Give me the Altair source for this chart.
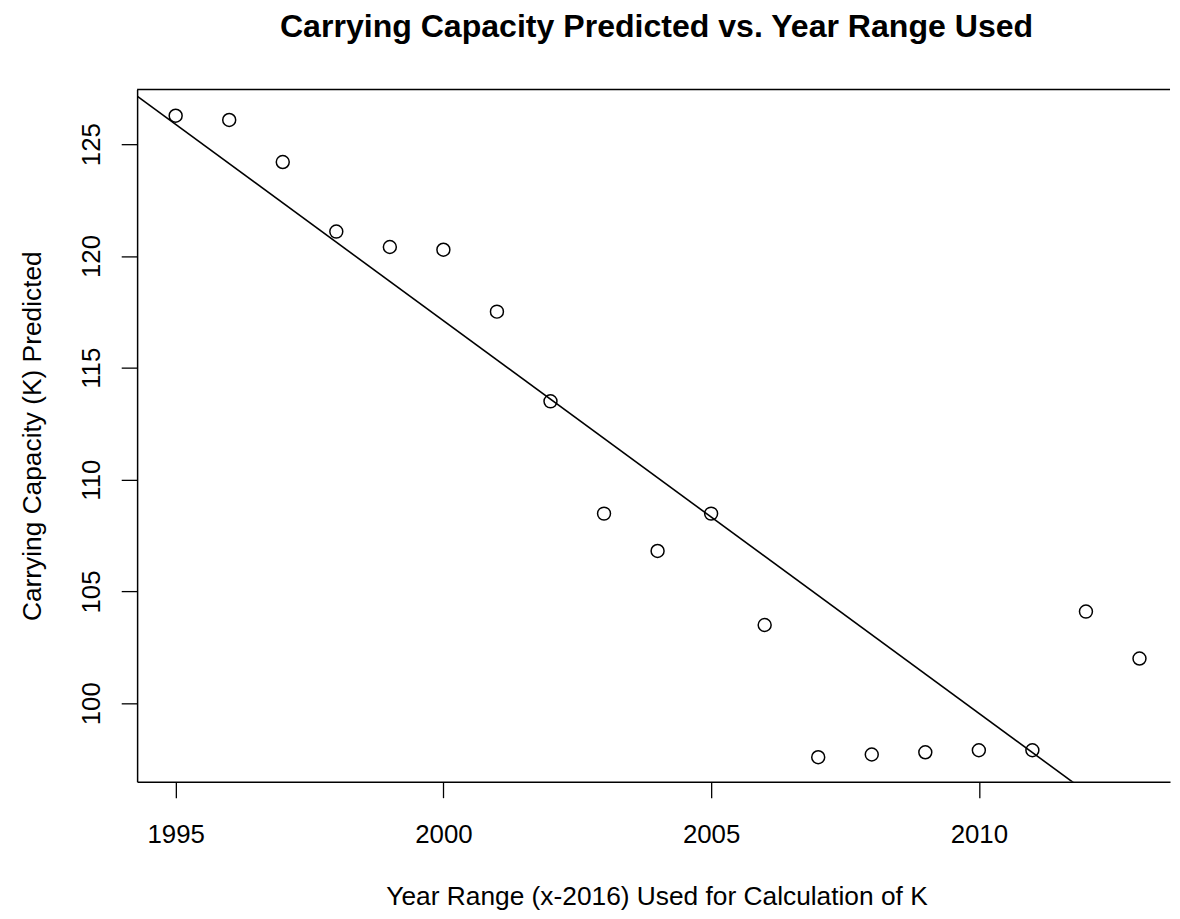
import altair as alt
import pandas as pd

# ---- data ----
years = list(range(1995, 2014))
k_pred = [126.27, 126.08, 124.2, 121.09, 120.4, 120.28, 117.51, 113.5, 108.48,
          106.81, 108.48, 103.5, 97.59, 97.71, 97.81, 97.9, 97.9, 104.1, 102.0]
x_ticks = [1995, 2000, 2005, 2010]
y_ticks = [100, 105, 110, 115, 120, 125]
x_domain = [1994.28, 2013.57]
y_domain = [96.49, 127.44]

df = pd.DataFrame({"year": years, "K": k_pred})

W, H = 1040, 697
FONT = "Liberation Sans"

xs = alt.Scale(domain=x_domain, nice=False, zero=False)
ys = alt.Scale(domain=y_domain, nice=False, zero=False)

x_axis = alt.Axis(
    values=x_ticks, format="d", title="Year Range (x-2016) Used for Calculation of K",
    grid=False, tickSize=16, tickColor="black", tickWidth=1.3,
    domainColor="black", domainWidth=1.5,
    labelFont=FONT, labelFontSize=26, labelColor="black",
    labelBaseline="alphabetic", labelPadding=45, labelFlush=False,
    titleFont=FONT, titleFontSize=26.5, titleFontWeight="normal", titleColor="black",
    titleBaseline="alphabetic", titleAlign="center", titleX=523, titleY=124,
)
y_axis = alt.Axis(
    values=y_ticks, title="Carrying Capacity (K) Predicted",
    grid=False, tickSize=16, tickColor="black", tickWidth=1.3,
    domainColor="black", domainWidth=1.5,
    labelFont=FONT, labelFontSize=26, labelColor="black",
    labelAngle=270, labelAlign="center", labelBaseline="alphabetic", labelPadding=22,
    labelFlush=False,
    titleFont=FONT, titleFontSize=26.5, titleFontWeight="normal", titleColor="black",
    titleAngle=270, titleAlign="center", titleBaseline="alphabetic",
    titleX=-97, titleY=H / 2,
)

base = alt.Chart(df)

fit = base.transform_regression(
    "year", "K", method="linear", extent=x_domain
).mark_line(color="black", strokeWidth=1.6, clip=True).encode(
    x=alt.X("year:Q", scale=xs, axis=x_axis),
    y=alt.Y("K:Q", scale=ys, axis=y_axis),
)

points = base.mark_point(
    shape="circle", filled=False, color="black", size=170, strokeWidth=1.5, opacity=1
).encode(
    x=alt.X("year:Q", scale=xs, axis=x_axis),
    y=alt.Y("K:Q", scale=ys, axis=y_axis),
)

top_border = alt.Chart(alt.Data(values=[{}])).mark_rule(
    color="black", strokeWidth=1.5
).encode(x=alt.value(0), x2=alt.value(W), y=alt.value(0))

chart = alt.layer(fit, points, top_border).properties(
    width=W,
    height=H,
    title=alt.Title(
        "Carrying Capacity Predicted vs. Year Range Used",
        font=FONT, fontSize=32.3, fontWeight="bold", color="black",
        anchor="middle", frame="group", offset=20, baseline="alphabetic", dx=3,
    ),
    autosize="none",
    padding={"left": 130, "top": 79, "right": 2, "bottom": 130},
    background="white",
).configure_view(stroke=None)

chart.save("out.html", embed_options={"renderer": "svg", "actions": False})
